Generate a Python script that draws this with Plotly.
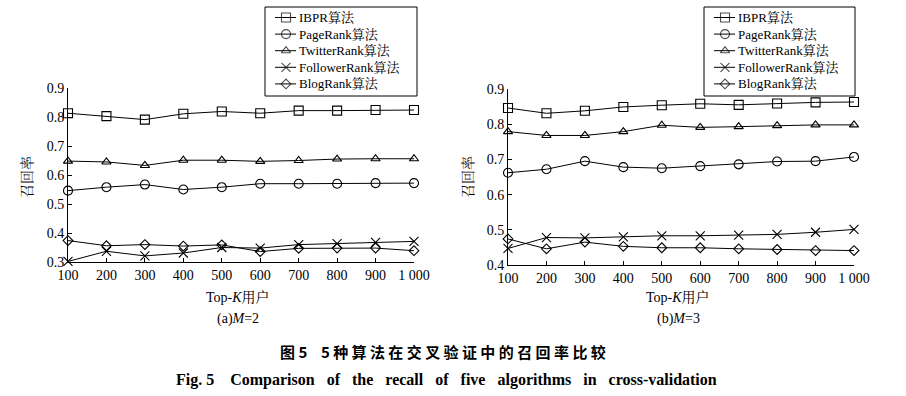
import plotly.graph_objects as go

topk = [100, 200, 300, 400, 500, 600, 700, 800, 900, 1000]
tick_text = ["100", "200", "300", "400", "500", "600", "700", "800", "900", "1 000"]

names = ["IBPR算法", "PageRank算法", "TwitterRank算法", "FollowerRank算法", "BlogRank算法"]
symbols = ["square-open", "circle-open", "triangle-up-open", "x-thin-open", "diamond-open"]
sizes = [9, 9, 8, 9, 7.5]

# (a) M=2
ibpr_m2 = [0.813, 0.803, 0.791, 0.811, 0.819, 0.813, 0.822, 0.822, 0.824, 0.824]
page_m2 = [0.546, 0.558, 0.567, 0.550, 0.558, 0.570, 0.570, 0.570, 0.572, 0.572]
twit_m2 = [0.648, 0.645, 0.633, 0.651, 0.651, 0.647, 0.650, 0.655, 0.656, 0.656]
foll_m2 = [0.302, 0.337, 0.321, 0.331, 0.350, 0.348, 0.360, 0.363, 0.368, 0.371]
blog_m2 = [0.374, 0.356, 0.360, 0.355, 0.359, 0.336, 0.347, 0.348, 0.348, 0.339]

# (b) M=3
ibpr_m3 = [0.846, 0.831, 0.838, 0.849, 0.854, 0.858, 0.855, 0.859, 0.862, 0.863]
page_m3 = [0.662, 0.672, 0.695, 0.678, 0.675, 0.681, 0.686, 0.694, 0.695, 0.707]
twit_m3 = [0.779, 0.768, 0.768, 0.779, 0.797, 0.791, 0.793, 0.796, 0.798, 0.798]
foll_m3 = [0.447, 0.478, 0.477, 0.480, 0.483, 0.483, 0.485, 0.487, 0.493, 0.501]
blog_m3 = [0.474, 0.446, 0.465, 0.453, 0.449, 0.449, 0.446, 0.444, 0.441, 0.441]

W, H = 906, 396
def px(x): return x / W
def py(y): return 1 - y / H

SERIF = "Liberation Serif, Times New Roman, Noto Serif CJK SC, Noto Sans CJK SC, serif"
fig = go.Figure()

panels = [
    ([ibpr_m2, page_m2, twit_m2, foll_m2, blog_m2], "x", "y"),
    ([ibpr_m3, page_m3, twit_m3, foll_m3, blog_m3], "x2", "y2"),
]
for series, xa, ya in panels:
    for name, sym, sz, vals in zip(names, symbols, sizes, series):
        fig.add_trace(go.Scatter(
            x=topk, y=vals, name=name, xaxis=xa, yaxis=ya, showlegend=False,
            mode="lines+markers", cliponaxis=False,
            line=dict(color="black", width=1),
            marker=dict(symbol=sym, size=sz, color="black",
                        line=dict(color="black", width=1.1)),
        ))

# custom legend boxes (pixel-space overlay axis)
legend_boxes = [(265, 417), (704, 855)]
box_top, box_bottom = 7, 96
row0, row_step = 17.5, 16.6
shapes = []
annotations = []
leg_font = dict(family=SERIF, size=13, color="black")
for bx0, bx1 in legend_boxes:
    shapes.append(dict(type="rect", xref="paper", yref="paper",
                       x0=px(bx0), x1=px(bx1), y0=py(box_bottom), y1=py(box_top),
                       line=dict(color="black", width=1), fillcolor="white", layer="below"))
    for i, (name, sym, sz) in enumerate(zip(names, symbols, sizes)):
        ry = row0 + i * row_step
        fig.add_trace(go.Scatter(
            x=[bx0 + 10, bx0 + 21, bx0 + 31], y=[ry, ry, ry], xaxis="x3", yaxis="y3",
            mode="lines+markers", showlegend=False, hoverinfo="skip", cliponaxis=False,
            line=dict(color="black", width=1),
            marker=dict(symbol=sym, size=[0, sz, 0], color="black",
                        line=dict(color="black", width=1.1)),
        ))
        annotations.append(dict(x=px(bx0 + 32), y=py(ry), text=name, xanchor="left",
                                font=leg_font))

axis_common = dict(showline=True, linecolor="black", linewidth=1, showgrid=False,
                   zeroline=False, ticks="inside", ticklen=4, tickcolor="black",
                   automargin=False,
                   tickfont=dict(family=SERIF, size=14, color="black"), mirror=False)

fig.update_layout(
    width=W, height=H, margin=dict(l=0, r=0, t=0, b=0),
    font=dict(family=SERIF, color="black"),
    plot_bgcolor="rgba(0,0,0,0)", paper_bgcolor="white", showlegend=False,
    xaxis=dict(domain=[px(68), px(414)], range=[100, 1000], tickvals=topk, ticktext=tick_text,
               anchor="y", **axis_common),
    yaxis=dict(domain=[py(262), py(88)], range=[0.3, 0.9], dtick=0.1, tick0=0.3,
               tickformat=".1f", anchor="x", **axis_common),
    xaxis2=dict(domain=[px(508), px(854)], range=[100, 1000], tickvals=topk, ticktext=tick_text,
                anchor="y2", **axis_common),
    yaxis2=dict(domain=[py(265), py(89)], range=[0.4, 0.9], dtick=0.1, tick0=0.4,
                tickformat=".1f", anchor="x2", **axis_common),
    xaxis3=dict(domain=[0, 1], range=[0, W], visible=False, anchor="y3", automargin=False),
    yaxis3=dict(domain=[0, 1], range=[H, 0], visible=False, anchor="x3", automargin=False),
    shapes=shapes,
)

ann_font = dict(family=SERIF, size=14, color="black")
NB = "\u00a0"
en_caption = ("Fig." + NB + "5" + NB * 4 + (NB * 3).join(
    ["Comparison", "of", "the", "recall", "of", "five", "algorithms", "in", "cross-validation"]))
cn_caption = "图 5" + NB * 4 + "5 种 算 法 在 交 叉 验 证 中 的 召 回 率 比 较"
annotations += [
    dict(x=px(27), y=py(177), text="召回率", textangle=-90, font=ann_font),
    dict(x=px(468), y=py(177), text="召回率", textangle=-90, font=ann_font),
    dict(x=px(238), y=py(297), text="Top-<i>K</i>用户", font=ann_font),
    dict(x=px(678), y=py(297), text="Top-<i>K</i>用户", font=ann_font),
    dict(x=px(238), y=py(319), text="(a)<i>M</i>=2", font=ann_font),
    dict(x=px(678), y=py(319), text="(b)<i>M</i>=3", font=ann_font),
    dict(x=px(278), y=py(351), text="<b>" + cn_caption + "</b>", xanchor="left",
         font=dict(family="Noto Sans CJK SC", size=15, color="black")),
    dict(x=px(174), y=py(380), text="<b>" + en_caption + "</b>", xanchor="left",
         font=dict(family=SERIF, size=16, color="black")),
]
for a in annotations:
    a.setdefault("xanchor", "center")
    a.update(xref="paper", yref="paper", showarrow=False, yanchor="middle")
fig.update_layout(annotations=annotations)

fig.write_html("out.html", config={"displayModeBar": False},
               post_script="document.body.style.margin='0';")
